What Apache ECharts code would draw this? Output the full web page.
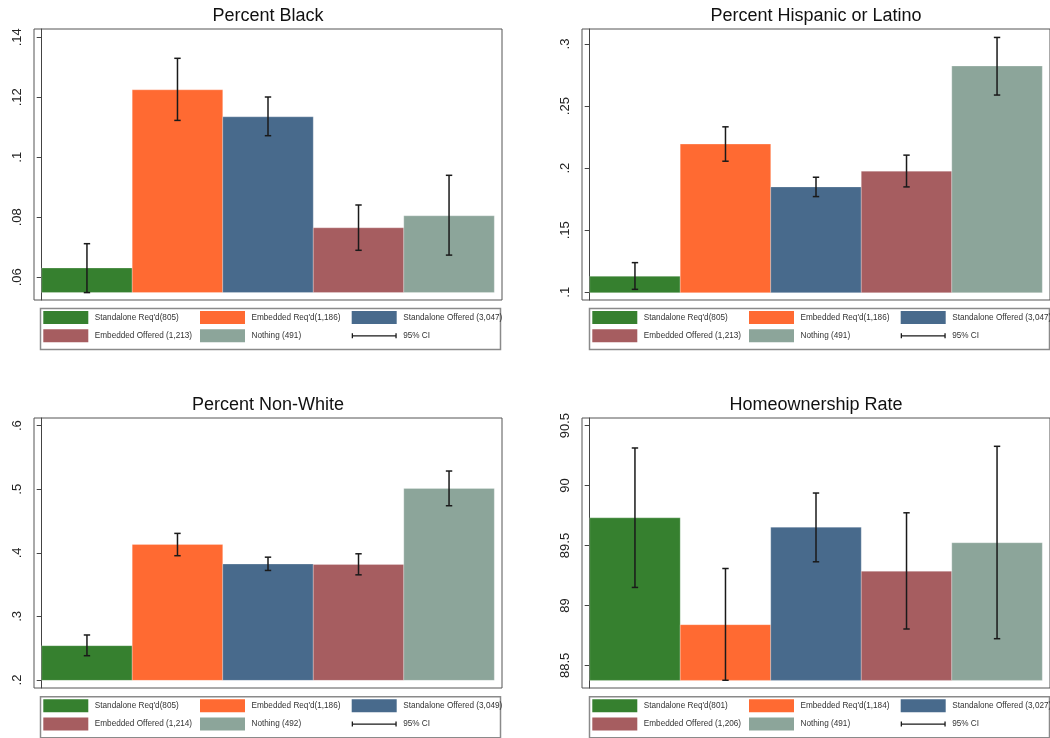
<!DOCTYPE html>
<html><head><meta charset="utf-8">
<script src="https://cdn.jsdelivr.net/npm/echarts@6/dist/echarts.min.js"></script>
<style>html,body{margin:0;padding:0;background:#fff}#c{width:1050px;height:738px}</style>
</head><body><div id="c"></div>
<script>
// ---------- data ----------
const groupColors = ['#36802f', '#ff6a32', '#486a8c', '#a65d60', '#8ca59a'];
const titles = ['Percent Black', 'Percent Hispanic or Latino', 'Percent Non-White', 'Homeownership Rate'];

const blackLabels = ["Standalone Req'd(805)", "Embedded Req'd(1,186)", "Standalone Offered (3,047)", "Embedded Offered (1,213)", "Nothing (491)"];
const blackMean = [0.0631, 0.1225, 0.1135, 0.0765, 0.0805];
const blackLow  = [0.0549, 0.1123, 0.1072, 0.0690, 0.0674];
const blackHigh = [0.0712, 0.1330, 0.1201, 0.0841, 0.0940];
const blackTicks = [0.06, 0.08, 0.10, 0.12, 0.14];

const hispLabels = ["Standalone Req'd(805)", "Embedded Req'd(1,186)", "Standalone Offered (3,047)", "Embedded Offered (1,213)", "Nothing (491)"];
const hispMean = [0.1129, 0.2194, 0.1849, 0.1976, 0.2823];
const hispLow  = [0.1024, 0.2056, 0.1771, 0.1849, 0.2589];
const hispHigh = [0.1239, 0.2333, 0.1927, 0.2105, 0.3053];
const hispTicks = [0.10, 0.15, 0.20, 0.25, 0.30];

const nonwLabels = ["Standalone Req'd(805)", "Embedded Req'd(1,186)", "Standalone Offered (3,049)", "Embedded Offered (1,214)", "Nothing (492)"];
const nonwMean = [0.2540, 0.4133, 0.3824, 0.3818, 0.5014];
const nonwLow  = [0.2382, 0.3955, 0.3723, 0.3654, 0.4741];
const nonwHigh = [0.2708, 0.4306, 0.3932, 0.3985, 0.5287];
const nonwTicks = [0.2, 0.3, 0.4, 0.5, 0.6];

const homeLabels = ["Standalone Req'd(801)", "Embedded Req'd(1,184)", "Standalone Offered (3,027)", "Embedded Offered (1,206)", "Nothing (491)"];
const homeMean = [89.731, 88.839, 89.653, 89.285, 89.523];
const homeLow  = [89.150, 88.375, 89.364, 88.803, 88.722];
const homeHigh = [90.314, 89.308, 89.938, 89.773, 90.328];
const homeTicks = [88.5, 89, 89.5, 90, 90.5];

const ciLabel = '95% CI';

// ---------- layout ----------
const panels = [
  {labels: blackLabels, mean: blackMean, low: blackLow, high: blackHigh, ticks: blackTicks,
   yMin: 0.05243, yMax: 0.14277, base: 0.0549, left: 34, top: 29, width: 468, height: 271, dx: 0, dy: 0},
  {labels: hispLabels, mean: hispMean, low: hispLow, high: hispHigh, ticks: hispTicks,
   yMin: 0.0938, yMax: 0.3121, base: 0.0997, left: 582, top: 29, width: 470, height: 271, dx: 549, dy: 0},
  {labels: nonwLabels, mean: nonwMean, low: nonwLow, high: nonwHigh, ticks: nonwTicks,
   yMin: 0.1874, yMax: 0.6121, base: 0.1994, left: 34, top: 418, width: 468, height: 270, dx: 0, dy: 388.3},
  {labels: homeLabels, mean: homeMean, low: homeLow, high: homeHigh, ticks: homeTicks,
   yMin: 88.3105, yMax: 90.5643, base: 88.374, left: 582, top: 418, width: 470, height: 270, dx: 549, dy: 388.3}
];
const titleTops = [7, 7, 396, 396];

const FONT = '"Liberation Sans", Arial, sans-serif';
const ciIcon = 'path://M0,0L0,0Z M45,13L45,13Z M0,4h1.3v5h-1.3z M0,5.9h45v1.2h-45z M43.7,4h1.3v5h-1.3z';

const grid = [], xAxis = [], yAxis = [], series = [], title = [], legend = [], graphic = [];

function fmt(v) {
  const r = Math.round(v * 1000) / 1000;
  return String(r).replace(/^0\./, '.');
}

panels.forEach((p, k) => {
  grid.push({left: p.left, top: p.top, width: p.width, height: p.height, show: true,
    borderColor: '#555', borderWidth: 1, backgroundColor: '#fff', containLabel: false});
  xAxis.push({type: 'value', gridIndex: k, min: -0.085, max: 5.085, show: false});
  yAxis.push({type: 'value', gridIndex: k, min: p.yMin, max: p.yMax, splitLine: {show: false},
    axisLine: {show: true, lineStyle: {color: '#444', width: 1}},
    axisTick: {show: true, length: 5, customValues: p.ticks, lineStyle: {color: '#444'}},
    axisLabel: {customValues: p.ticks, rotate: 90, margin: 10, fontSize: 13, fontFamily: FONT, color: '#222',
      formatter: fmt}
  });
  title.push({text: titles[k], left: p.left + p.width / 2 - (k % 2 ? 1 : 0), top: titleTops[k], textAlign: 'center', padding: 0,
    textStyle: {fontFamily: FONT, fontSize: 18, fontWeight: 'normal', color: '#111'}});

  p.labels.forEach((name, i) => {
    series.push({
      type: 'custom', name: name, xAxisIndex: k, yAxisIndex: k,
      itemStyle: {color: groupColors[i]},
      data: [[i, p.mean[i], p.base]],
      encode: {x: 0, y: [1, 2]},
      renderItem: (params, api) => {
        const x0 = api.value(0);
        const a = api.coord([x0, api.value(1)]);
        const b = api.coord([x0 + 1, api.value(2)]);
        return {type: 'rect', shape: {x: a[0], y: a[1], width: b[0] - a[0], height: b[1] - a[1]},
          style: {fill: api.visual('color'), stroke: 'rgba(255,255,255,0.25)', lineWidth: 1}};
      },
      z: 2
    });
  });

  series.push({
    type: 'custom', name: ciLabel, xAxisIndex: k, yAxisIndex: k,
    itemStyle: {color: '#1a1a1a'},
    data: p.mean.map((_, i) => [i, p.low[i], p.high[i]]),
    encode: {x: 0, y: [1, 2]},
    renderItem: (params, api) => {
      const xc = api.value(0) + 0.5;
      const lo = api.coord([xc, api.value(1)]);
      const hi = api.coord([xc, api.value(2)]);
      const w = 3.2;
      const st = {stroke: '#1a1a1a', lineWidth: 1.5};
      return {type: 'group', children: [
        {type: 'line', shape: {x1: lo[0], y1: lo[1], x2: hi[0], y2: hi[1]}, style: st},
        {type: 'line', shape: {x1: lo[0] - w, y1: lo[1], x2: lo[0] + w, y2: lo[1]}, style: st},
        {type: 'line', shape: {x1: hi[0] - w, y1: hi[1], x2: hi[0] + w, y2: hi[1]}, style: st}
      ]};
    },
    z: 3
  });

  const cols = [[p.labels[0], p.labels[3]], [p.labels[1], p.labels[4]], [p.labels[2], {name: ciLabel, icon: ciIcon}]];
  const colX = [43.3, 200, 351.7];
  cols.forEach((c, j) => {
    legend.push({
      orient: 'vertical', left: colX[j] + p.dx, top: 311 + p.dy, padding: 0,
      itemWidth: 45, itemHeight: 13, itemGap: 5.3, icon: 'rect', selectedMode: false,
      data: c,
      textStyle: {fontFamily: FONT, fontSize: 8.2, color: '#333', padding: [0, 0, 0, 1.5]}
    });
  });
  graphic.push({type: 'rect', left: 38 + p.dx, top: 306 + p.dy, silent: true,
    shape: {x: 0, y: 0, width: 460, height: 41},
    style: {fill: 'none', stroke: '#8a8a8a', lineWidth: 1.5}});
});

const chart = echarts.init(document.getElementById('c'), null, {renderer: 'canvas'});
chart.setOption({
  animation: false,
  backgroundColor: '#fff',
  title, grid, xAxis, yAxis, series, legend, graphic
});
</script>
</body></html>
